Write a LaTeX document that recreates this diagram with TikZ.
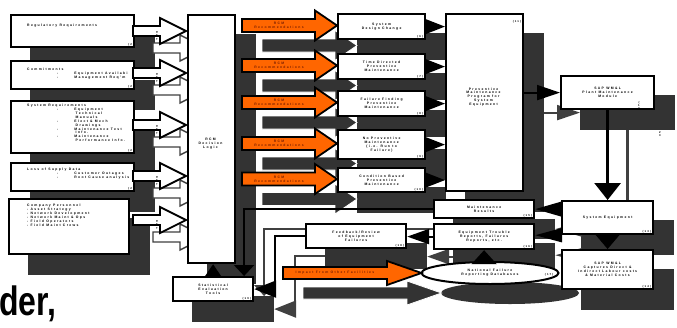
\documentclass[tikz,border=0pt]{standalone}
\usepackage{fontspec}
\setmainfont{Liberation Sans}
\newfontfamily\trkfont{Liberation Sans}[LetterSpace=40]
\usetikzlibrary{arrows.meta,shapes.geometric,calc}
\definecolor{shd}{HTML}{333333}
\definecolor{shdl}{HTML}{404040}
\definecolor{orng}{HTML}{FF6600}
\definecolor{rcmtxt}{HTML}{7A1E00}
\pgfdeclarelayer{bg}
\pgfdeclarelayer{shadow}
\pgfsetlayers{bg,shadow,main}
\newcommand\barrow[7]{\path[#1] (#2,#5-#6) -- (#3,#5-#6) -- (#3,#5-#7) -- (#4,#5) -- (#3,#5+#7) -- (#3,#5+#6) -- (#2,#5+#6) -- cycle;}
\begin{document}
\begin{tikzpicture}[x=1pt,y=-1pt,line join=miter,
 box/.style={draw=black,line width=2.2pt,fill=white,inner sep=0pt,anchor=north west},
 txt/.style={font=\trkfont\bfseries\fontsize{3.4}{3.9}\selectfont,align=center,inner sep=0pt},
 txtl/.style={txt,align=left,anchor=north west},
 numl/.style={font=\trkfont\bfseries\fontsize{2.8}{3.2}\selectfont,inner sep=0pt,anchor=south east},
 rtxt/.style={txt,text=rcmtxt},
 conn/.style={draw=black,line width=2pt},
 sconn/.style={draw=shdl,line width=2pt},
 sh/.style={shift={(20,20)}},
 orangearrow/.style={fill=orng,draw=black,line width=1.8pt},
 whitearrow/.style={fill=white,draw=black,line width=1.8pt},
 wshadow/.style={fill=white,draw=shdl,line width=1.4pt},
 oshadow/.style={fill=shd,draw=white,line width=0.8pt},
]
\begin{pgfonlayer}{bg}
\fill[white] (0,0) rectangle (677,327);
\end{pgfonlayer}
\useasboundingbox (0,0) rectangle (677,327);

% ---------------- boxes ----------------
\node[box,minimum width=123pt,minimum height=32pt] (b1) at (10,14) {};
\node[box,minimum width=123pt,minimum height=28pt] (b2) at (10,60) {};
\node[box,minimum width=123pt,minimum height=52pt] (b3) at (10,100) {};
\node[box,minimum width=123pt,minimum height=28pt] (b4) at (10,162) {};
\node[box,minimum width=120pt,minimum height=55pt] (b5) at (8,198) {};
\node[box,minimum width=47pt,minimum height=248pt] (rcm) at (187,14) {};
\node[box,txt,minimum width=87pt,minimum height=25pt] (sdc) at (337,13) {System\\Design Change};
\node[box,txt,minimum width=87pt,minimum height=25pt] (tdpm) at (337,53) {Time Directed\\Preventive\\Maintenance};
\node[box,txt,minimum width=87pt,minimum height=25pt] (ffpm) at (337,90) {Failure Finding\\Preventive\\Maintenance};
\node[box,txt,minimum width=87pt,minimum height=29pt] (npm) at (337,129) {No Preventive\\Maintenance\\(i.e. Run to\\Failure)};
\node[box,txt,minimum width=87pt,minimum height=24pt] (cbpm) at (337,167) {Condition Based\\Preventive\\Maintenance};
\node[box,minimum width=77pt,minimum height=177pt] (pm) at (445,13) {};
\node[box,txt,minimum width=93pt,minimum height=33pt] (sap) at (560,75) {SAP WM\&L\\Plant Maintenance\\Module};
\node[box,txt,minimum width=91pt,minimum height=33pt] (syseq) at (561,200) {System Equipment};
\node[box,txt,minimum width=91pt,minimum height=39pt] (cap) at (561,249) {SAP WM\&L\\Captures Direct \&\\Indirect Labour costs\\\& Material Costs};
\node[box,txt,minimum width=100pt,minimum height=18pt] (mr) at (433,199) {Maintenance\\Results};
\node[box,txt,minimum width=100pt,minimum height=25pt] (etr) at (433,223) {Equipment Trouble\\Reports, Failures\\Reports, etc.};
\node[box,txt,minimum width=100pt,minimum height=24pt] (fb) at (305,223) {Feedback/Review\\of Equipment\\Failures};
\node[box,txt,minimum width=80pt,minimum height=24pt] (stat) at (172,276) {Statistical\\Evaluation\\Tools};
\node[ellipse,draw=black,line width=2pt,fill=white,inner sep=0pt,minimum width=137pt,minimum height=22pt,txt] (ell) at (490,273) {National Failure\\Reporting Databases};

% ---------------- box texts ----------------
\node[txtl] (b1t) at (27,23.5) {Regulatory Requirements};
\node[txtl] (b2t) at (27,68) {Commitments\\
\hspace*{30pt}-\hspace*{16pt}Equipment Availabi\\
\hspace*{30pt}-\hspace*{16pt}Management Req'm};
\node[txtl] (b3t) at (27,104) {System Requirements\\
\hspace*{30pt}-\hspace*{16pt}Equipment\\
\hspace*{48.5pt}Technical\\
\hspace*{48.5pt}Manuals\\
\hspace*{30pt}-\hspace*{16pt}Elect \& Mech\\
\hspace*{48.5pt}Drawings\\
\hspace*{30pt}-\hspace*{16pt}Maintenance Test\\
\hspace*{48.5pt}Info.\\
\hspace*{30pt}-\hspace*{16pt}Maintenance\\
\hspace*{48.5pt}Performance Info.};
\node[txtl] (b4t) at (27,168) {Loss of Supply Data\\
\hspace*{30pt}-\hspace*{16pt}Customer Outages\\
\hspace*{30pt}-\hspace*{16pt}Root Cause analysis};
\node[txtl] (b5t) at (27,204) {Company Personnel\\- Asset Strategy\\- Network Development\\- Network Maint \& Ops\\- Field Operators\\- Field Maint Crews};
\node[txt] (rcmt) at (210.5,144) {RCM\\Decision\\Logic};
\node[txt] (pmt) at (483.5,97) {Preventive\\Maintenance\\Program for\\System\\Equipment};

% numbers
\foreach \n in {b1,b2,b3,b4}{\node[numl] (\n n) at ([shift={(-3,-2)}]\n.south east) {(2};}
\node[numl] (sdcn) at ([shift={(-3,-2)}]sdc.south east) {(6)};
\node[numl] (tdpmn) at ([shift={(-3,-2)}]tdpm.south east) {(7)};
\node[numl] (ffpmn) at ([shift={(-3,-2)}]ffpm.south east) {(8)};
\node[numl] (npmn) at ([shift={(-3,-2)}]npm.south east) {(9)};
\node[numl] (cbpmn) at ([shift={(-3,-2)}]cbpm.south east) {(10)};
\node[numl,anchor=north east] (pmn) at ([shift={(-3,7)}]pm.north east) {(11)};
\node[numl,anchor=north,align=center] (sapn) at (639,101) {(\\1\\2};
\node[numl,anchor=north,align=center] (sapm) at (660,131) {2\\3};
\node[numl] (syseqn) at ([shift={(-3,-2)}]syseq.south east) {(13)};
\node[numl] (capn) at ([shift={(-3,-2)}]cap.south east) {(14)};
\node[numl] (mrn) at ([shift={(-3,-2)}]mr.south east) {(15)};
\node[numl] (etrn) at ([shift={(-3,-2)}]etr.south east) {(16)};
\node[numl,anchor=east] (elln) at ([shift={(-6,1.5)}]ell.east) {(17)};
\node[numl] (fbn) at ([shift={(-3,-2)}]fb.south east) {(18)};
\node[numl] (statn) at ([shift={(-3,-2)}]stat.south east) {(19)};

% ---------------- block arrows ----------------
\foreach \yc/\k in {31/1,73/2,125/3,176/4,220/5}{
  \barrow{whitearrow}{133}{160}{186}{\yc}{5}{13}
  \node[txt,rotate=-90,anchor=west,font=\trkfont\bfseries\fontsize{2.6}{3}\selectfont] (d\k) at (157,\yc) {Data};
}
\foreach \yc/\k in {25.5/1,65.5/2,102.5/3,143.5/4,179/5}{
  \barrow{orangearrow}{242}{315}{337}{\yc}{6.5}{15}
  \node[rtxt] (ra\k) at (279,\yc) {RCM\\Recommendations};
}
\barrow{orangearrow}{283}{387}{421.5}{273}{6}{12}
\node[rtxt] (imp) at (335,273) {Impact From Other Facilities};

% ---------------- connectors ----------------
\foreach \n in {sdc,tdpm,ffpm,npm,cbpm}{
  \draw[conn,-{Triangle[length=20pt,width=15pt]}] (\n.east) -- (\n.east -| pm.west);}
\draw[conn,-{Triangle[length=23pt,width=15pt]}] (pm.east |- sap.west) -- (sap.west);
\draw[conn,line width=3pt,-{Triangle[length=17pt,width=26pt]}] (sap.south) -- (syseq.north);
\draw[conn,-{Triangle[length=15pt,width=25pt]}] (syseq.south) -- (cap.north);
\draw[conn,-{Triangle[length=27pt,width=15pt]}] (syseq.west |- mr.east) -- (mr.east);
\draw[conn,-{Triangle[length=27pt,width=14pt]}] (syseq.south west) -- (syseq.south west -| etr.east);
\draw[conn,-{Triangle[length=22pt,width=15pt]}] (etr.west) -- (etr.west -| fb.east);
\draw[conn,-{Triangle[length=14pt,width=25pt]}] (etr.south |- ell.north) -- (etr.south);
\draw[conn,-{Triangle[length=13pt,width=17pt]}] (stat.north) -- (stat.north |- rcm.south);
\draw[conn,-{Triangle[length=11pt,width=20pt]}] (mr.west) -| ([xshift=31pt]stat.north);
\draw[conn,-{Triangle[length=22pt,width=17pt]}] (fb.west) -- ++(-30,0) |- (stat.east);

% big cropped slide text
\node[anchor=base west,inner sep=0pt,font=\bfseries\fontsize{41}{41}\selectfont] (der) at (-1,315) {\scalebox{0.78}[1]{der,}};

% ---------------- shadows ----------------
\begin{pgfonlayer}{shadow}
\foreach \n in {b1,b2,b3,b4,b5,rcm,sdc,tdpm,ffpm,npm,cbpm,pm,sap,syseq,cap,mr,etr,fb,stat}{
  \fill[shd] ([sh]\n.north west) rectangle ([sh]\n.south east);}
\fill[shd] ([sh]ell.center) ellipse [x radius=69pt,y radius=11pt];
\begin{scope}[shift={(20,17)}]
\foreach \yc in {31,73,125,176,220}{\barrow{wshadow}{133}{160}{186}{\yc}{5}{13}}
\end{scope}
\begin{scope}[shift={(20,20)}]
\foreach \yc in {25.5,65.5,102.5,143.5,179}{\barrow{oshadow}{242}{315}{337}{\yc}{6.5}{15}}
\barrow{oshadow}{283}{387}{421.5}{273}{6}{12}
\end{scope}
\draw[sconn,-{Triangle[length=23pt,width=15pt]}] ([sh]pm.east |- sap.west) -- ([sh]sap.west);
\draw[sconn,line width=3pt,-{Triangle[length=17pt,width=26pt]}] ([sh]sap.south) -- ([sh]syseq.north);
\draw[sconn,-{Triangle[length=27pt,width=15pt]}] ([sh]syseq.west |- mr.east) -- ([sh]mr.east);
\draw[sconn,-{Triangle[length=27pt,width=14pt]}] ([sh]syseq.south west) -- ([sh]syseq.south west -| etr.east);
\draw[sconn,-{Triangle[length=22pt,width=15pt]}] ([sh]etr.west) -- ([sh]etr.west -| fb.east);
\draw[sconn,-{Triangle[length=11pt,width=20pt]}] ([sh]mr.west) -| ([shift={(51,20)}]stat.north);
\draw[sconn,-{Triangle[length=22pt,width=17pt]}] ([sh]fb.west) -- ++(-30,0) |- ([sh]stat.east);
\end{pgfonlayer}
\end{tikzpicture}
\end{document}
